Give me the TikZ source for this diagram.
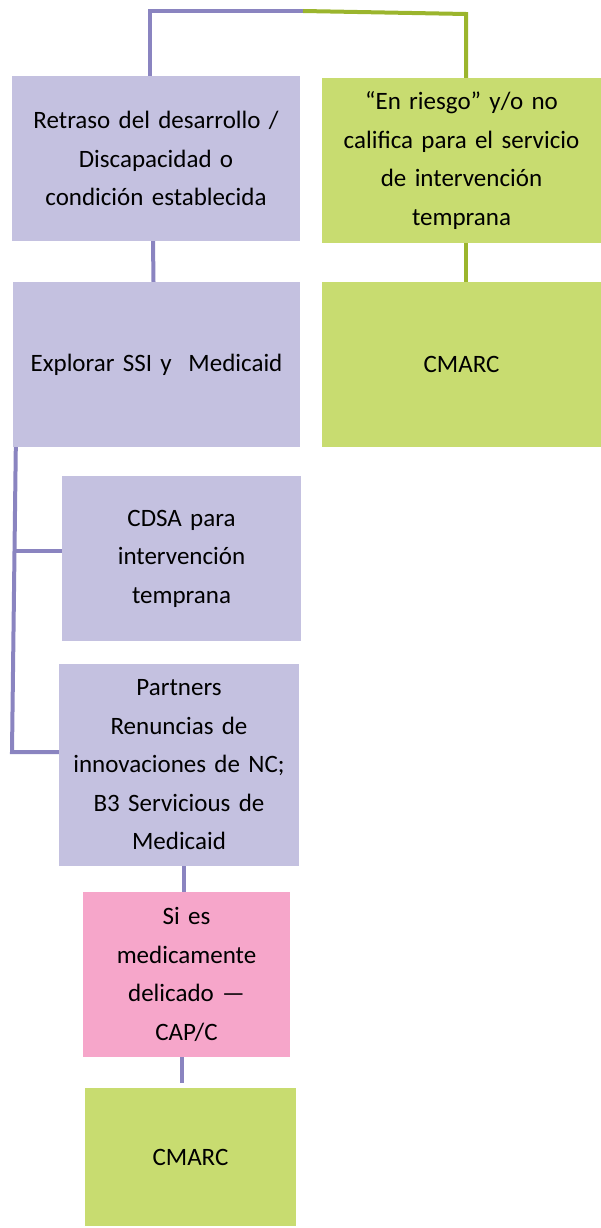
\documentclass[tikz,border=0pt]{standalone}
\usepackage{fontspec}
\setmainfont{Carlito}
\definecolor{pfill}{RGB}{196,193,224}
\definecolor{pline}{RGB}{138,132,192}
\definecolor{gfill}{RGB}{200,220,112}
\definecolor{gline}{RGB}{155,181,45}
\definecolor{kfill}{RGB}{246,166,202}
\begin{document}
\begin{tikzpicture}[x=1pt,y=-1pt,
  box/.style={inner sep=0pt, align=center, font=\fontsize{25}{38.5}\selectfont},
  pbox/.style={box, fill=pfill},
  gbox/.style={box, fill=gfill},
  kbox/.style={box, fill=kfill},
  pcon/.style={draw=pline, line width=4pt},
  gcon/.style={draw=gline, line width=4pt}]
\useasboundingbox (0,0) rectangle (601,1228);
\node[pbox, minimum width=288pt, minimum height=165pt, text width=280pt] (A) at (156,158.5) {Retraso del desarrollo /\\Discapacidad o\\condición establecida};
\node[gbox, minimum width=279pt, minimum height=165pt, text width=275pt] (B) at (461.5,160.5) {“En riesgo” y/o no\\califica para el servicio\\de intervención\\temprana};
\node[pbox, minimum width=287pt, minimum height=165pt, text width=280pt] (C) at (156.5,364.5) {Explorar SSI y\ \ Medicaid};
\node[gbox, minimum width=279pt, minimum height=165pt, text width=260pt] (D) at (461.5,364.5) {CMARC};
\node[pbox, minimum width=239pt, minimum height=165pt, text width=230pt] (E) at (181.5,558.5) {CDSA para\\intervención\\temprana};
\node[pbox, minimum width=240pt, minimum height=202pt, text width=235pt] (F) at (179,765) {Partners\\Renuncias de\\innovaciones de NC;\\B3 Servicious de\\Medicaid};
\node[kbox, minimum width=207pt, minimum height=165pt, text width=200pt] (G) at (186.5,974.5) {Si es\\medicamente\\delicado —\\CAP/C};
\node[gbox, minimum width=211pt, minimum height=138pt, text width=200pt] (H) at (190.5,1157) {CMARC};
\coordinate (top) at (303,11);
\coordinate (brk) at (12,752);
\draw[pcon] ([xshift=-6pt]A.north) |- (top);
\draw[gcon] (top) -- (466,14) -- ([xshift=4.5pt]B.north);
\draw[pcon] ([xshift=-3pt]A.south) -- ([xshift=-3pt]C.north);
\draw[gcon] ([xshift=4.5pt]B.south) -- ([xshift=4.5pt]D.north);
\draw[pcon] ([xshift=3pt]C.south west) -- (brk) -- (F.west |- brk);
\draw[pcon] (15,551) -- (E.west |- 0,551);
\draw[pcon] ([xshift=5pt]F.south) -- ([xshift=-2.5pt]G.north);
\draw[pcon] ([xshift=-4.5pt]G.south) -- ([xshift=-8.5pt,yshift=5pt]H.north);
\end{tikzpicture}
\end{document}
